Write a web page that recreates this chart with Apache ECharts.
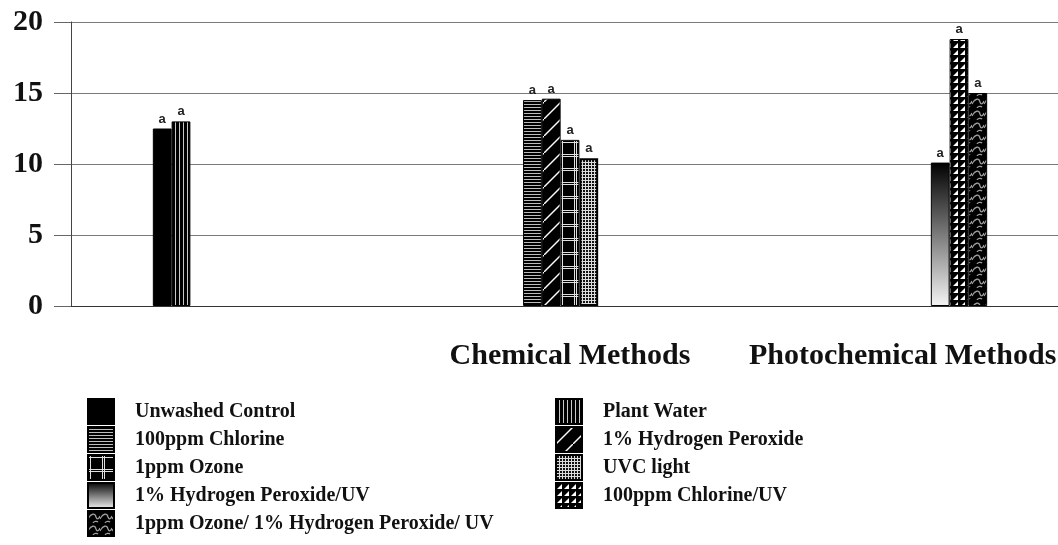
<!DOCTYPE html>
<html>
<head>
<meta charset="utf-8">
<script src="https://cdn.jsdelivr.net/npm/echarts@6/dist/echarts.min.js"></script>
<style>
html,body{margin:0;padding:0;background:#fff;overflow:hidden;width:1058px;height:545px;}
#chart{width:1069px;height:545px;}
</style>
</head>
<body>
<div id="chart"></div>
<script>
// ---- data ----
var categories = ["", "Chemical Methods", "Photochemical Methods"];
var seriesNames = [
  "Unwashed Control", "Plant Water",
  "100ppm Chlorine", "1% Hydrogen Peroxide",
  "1ppm Ozone", "UVC light",
  "1% Hydrogen Peroxide/UV", "100ppm Chlorine/UV",
  "1ppm Ozone/ 1% Hydrogen Peroxide/ UV"
];
var unwashedControl = [12.5, null, null];
var plantWater = [13.0, null, null];
var chlorine100 = [null, 14.5, null];
var hydrogenPeroxide1 = [null, 14.6, null];
var ozone1 = [null, 11.7, null];
var uvcLight = [null, 10.4, null];
var peroxideUV = [null, null, 10.1];
var chlorineUV = [null, null, 18.8];
var ozonePeroxideUV = [null, null, 15.0];
var seriesValues = [unwashedControl, plantWater, chlorine100, hydrogenPeroxide1, ozone1, uvcLight, peroxideUV, chlorineUV, ozonePeroxideUV];
var letterLabels = ["a", "a", "a", "a", "a", "a", "a", "a", "a"];
var yTicks = [0, 5, 10, 15, 20];

// ---- pattern helpers ----
function pat(w, h, draw) {
  var c = document.createElement('canvas');
  c.width = w; c.height = h;
  var g = c.getContext('2d');
  draw(g, w, h);
  return { image: c, repeat: 'repeat' };
}
var fills = [
  '#000000',
  pat(4, 4, function (g) { g.fillStyle = '#000'; g.fillRect(0, 0, 4, 4); g.fillStyle = '#c8c8c8'; g.fillRect(3, 0, 1, 4); }),
  pat(4, 3, function (g) { g.fillStyle = '#000'; g.fillRect(0, 0, 4, 3); g.fillStyle = '#bdbdbd'; g.fillRect(0, 2, 4, 1); }),
  pat(17, 17, function (g) {
    g.fillStyle = '#000'; g.fillRect(0, 0, 17, 17);
    g.strokeStyle = '#fff'; g.lineWidth = 1.4;
    g.beginPath(); g.moveTo(-1, 18); g.lineTo(18, -1); g.stroke();
  }),
  pat(14, 14, function (g) {
    g.fillStyle = '#000'; g.fillRect(0, 0, 14, 14);
    g.fillStyle = '#e0e0e0'; g.fillRect(0, 0, 14, 1); g.fillRect(0, 2, 14, 1);
    g.fillRect(0, 0, 1, 14); g.fillRect(2, 0, 1, 14);
  }),
  pat(3, 3, function (g) {
    g.fillStyle = '#111'; g.fillRect(0, 0, 3, 3);
    g.fillStyle = '#dcdcdc'; g.fillRect(0, 0, 3, 1); g.fillRect(0, 0, 1, 3);
  }),
  { type: 'linear', x: 0, y: 0, x2: 0, y2: 1, colorStops: [{ offset: 0, color: '#000' }, { offset: 1, color: '#f4f4f4' }] },
  pat(7, 7, function (g) {
    g.fillStyle = '#000'; g.fillRect(0, 0, 7, 7);
    g.fillStyle = '#fff';
    g.beginPath(); g.moveTo(1, 6); g.lineTo(6, 6); g.lineTo(6, 1); g.closePath(); g.fill();
  }),
  pat(12, 12, function (g) {
    g.fillStyle = '#000'; g.fillRect(0, 0, 12, 12);
    g.strokeStyle = '#a0a0a0'; g.lineWidth = 1.3;
    g.beginPath(); g.moveTo(0, 8); g.bezierCurveTo(3, 2, 7, 2, 8, 6); g.bezierCurveTo(9, 9, 11, 8, 12, 5); g.stroke();
    g.beginPath(); g.moveTo(5, 12); g.bezierCurveTo(6, 10, 9, 10, 10, 11); g.stroke();
  })
];

var series = seriesNames.map(function (name, i) {
  return {
    name: name,
    type: 'bar',
    data: seriesValues[i],
    barGap: 0,
    barCategoryGap: '49.2%',
    itemStyle: { color: fills[i], borderColor: '#000', borderWidth: i === 5 ? 2 : 1 },
    label: {
      show: true, position: 'top', distance: 3,
      formatter: letterLabels[i],
      fontFamily: 'Liberation Sans, Arial, sans-serif', fontWeight: 'bold', fontSize: 13, color: '#222'
    }
  };
});

var legendText = { fontFamily: 'Liberation Serif, Times New Roman, serif', fontWeight: 'bold', fontSize: 20, lineHeight: 24, color: '#111', padding: [0, 0, 0, 16] };

var chart = echarts.init(document.getElementById('chart'), null, { renderer: 'canvas' });
chart.setOption({
  backgroundColor: '#fff',
  animation: false,
  grid: { left: 71, right: 0, top: 22, bottom: 239, containLabel: false },
  legend: [
    {
      orient: 'vertical', left: 87, top: 398, padding: 0, itemWidth: 26, itemHeight: 25, itemGap: 1,
      icon: 'rect', textStyle: legendText,
      data: [seriesNames[0], seriesNames[2], seriesNames[4], seriesNames[6], seriesNames[8]]
    },
    {
      orient: 'vertical', left: 555, top: 398, padding: 0, itemWidth: 26, itemHeight: 25, itemGap: 1,
      icon: 'rect', textStyle: legendText,
      data: [seriesNames[1], seriesNames[3], seriesNames[5], seriesNames[7]]
    }
  ],
  xAxis: {
    type: 'category',
    data: categories,
    axisLine: { lineStyle: { color: '#333', width: 1 } },
    axisTick: { alignWithLabel: true, length: 19, lineStyle: { color: '#555' } },
    axisLabel: {
      margin: 35, interval: 0,
      fontFamily: 'Liberation Serif, Times New Roman, serif', fontWeight: 'bold', fontSize: 30, color: '#111'
    }
  },
  yAxis: {
    type: 'value', min: yTicks[0], max: yTicks[yTicks.length - 1], interval: 5,
    axisLine: { show: true, lineStyle: { color: '#444', width: 1 } },
    axisTick: { show: true, length: 17, lineStyle: { color: '#666' } },
    splitLine: { lineStyle: { color: '#7a7a7a', width: 1 } },
    axisLabel: {
      margin: 28,
      fontFamily: 'Liberation Serif, Times New Roman, serif', fontWeight: 'bold', fontSize: 30, color: '#111'
    }
  },
  series: series
});
</script>
</body>
</html>
